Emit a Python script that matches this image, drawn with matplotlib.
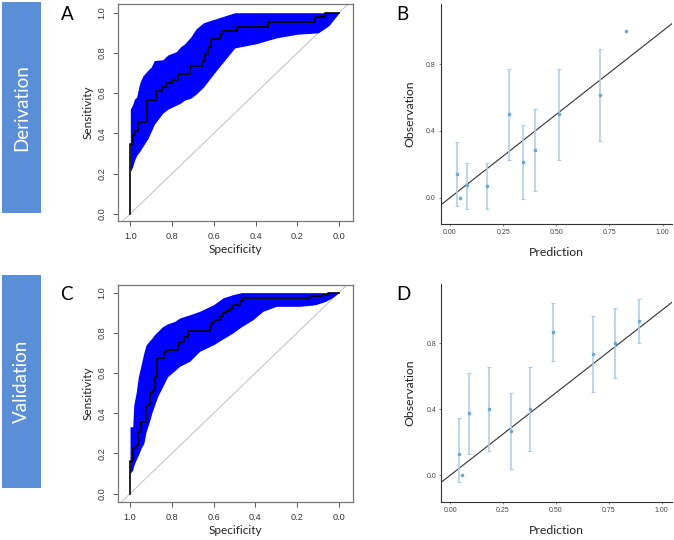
import numpy as np
import matplotlib
matplotlib.use("Agg")
import matplotlib.pyplot as plt
from matplotlib.patches import Rectangle

# ---------------- data ----------------
# Panel A (derivation ROC): step curve vertices (specificity, sensitivity)
roc_a_spec = [1.0, 1.0, 0.989, 0.978, 0.962, 0.922, 0.877, 0.850, 0.831, 0.802, 0.770,
              0.714, 0.655, 0.643, 0.627, 0.612, 0.571, 0.563, 0.491, 0.339, 0.116, 0.069, 0.0]
roc_a_sens = [0.0, 0.347, 0.39, 0.41, 0.456, 0.565, 0.612, 0.628, 0.652, 0.665, 0.695,
              0.736, 0.761, 0.794, 0.828, 0.869, 0.894, 0.91, 0.93, 0.952, 0.977, 1.0, 1.0]
band_a_spec = [1.00, 0.99, 0.98, 0.97, 0.955, 0.94, 0.915, 0.90, 0.885, 0.845, 0.82, 0.78,
               0.76, 0.74, 0.71, 0.685, 0.65, 0.59, 0.50, 0.40, 0.30, 0.20, 0.10, 0.05, 0.0]
band_a_upper = [0.52, 0.54, 0.57, 0.58, 0.65, 0.685, 0.715, 0.73, 0.762, 0.766, 0.79, 0.806,
                0.83, 0.845, 0.88, 0.92, 0.95, 0.97, 1.0, 1.0, 1.0, 1.0, 1.0, 1.0, 1.0]
band_a_lower = [0.21, 0.23, 0.265, 0.29, 0.31, 0.335, 0.375, 0.41, 0.445, 0.50, 0.52, 0.54,
                0.55, 0.565, 0.575, 0.595, 0.63, 0.71, 0.825, 0.845, 0.875, 0.893, 0.90, 0.935, 1.0]

# Panel C (validation ROC)
roc_c_spec = [1.0, 1.0, 0.987, 0.971, 0.96, 0.947, 0.923, 0.915, 0.904, 0.892, 0.879, 0.871,
              0.836, 0.828, 0.772, 0.764, 0.74, 0.724, 0.619, 0.612, 0.596, 0.571, 0.555,
              0.539, 0.523, 0.507, 0.475, 0.459, 0.14, 0.08, 0.05, 0.0]
roc_c_sens = [0.0, 0.16, 0.226, 0.242, 0.308, 0.358, 0.436, 0.446, 0.50, 0.517, 0.582, 0.673,
              0.706, 0.714, 0.74, 0.756, 0.781, 0.808, 0.833, 0.85, 0.866, 0.882, 0.898,
              0.907, 0.924, 0.94, 0.957, 0.974, 0.985, 0.99, 1.0, 1.0]
band_c_spec = [1.00, 0.987, 0.982, 0.971, 0.96, 0.947, 0.934, 0.923, 0.907, 0.896, 0.884,
               0.868, 0.844, 0.82, 0.788, 0.762, 0.714, 0.667, 0.60, 0.555, 0.507, 0.467,
               0.411, 0.364, 0.30, 0.188, 0.116, 0.068, 0.036, 0.0]
band_c_upper = [0.333, 0.333, 0.441, 0.50, 0.582, 0.64, 0.70, 0.74, 0.76, 0.773, 0.79,
                0.806, 0.831, 0.845, 0.856, 0.874, 0.89, 0.907, 0.94, 0.974, 0.99, 1.0,
                1.0, 1.0, 1.0, 1.0, 1.0, 1.0, 1.0, 1.0]
band_c_lower = [0.101, 0.117, 0.14, 0.168, 0.192, 0.226, 0.25, 0.308, 0.358, 0.40, 0.436,
                0.483, 0.532, 0.582, 0.61, 0.634, 0.659, 0.708, 0.741, 0.77, 0.80, 0.83,
                0.866, 0.907, 0.932, 0.932, 0.939, 0.955, 0.972, 1.0]

# Panel B (derivation calibration)
cal_b_pred = [0.033, 0.049, 0.081, 0.172, 0.277, 0.342, 0.40, 0.514, 0.705, 0.829]
cal_b_obs = [0.142, 0.0, 0.076, 0.072, 0.50, 0.212, 0.286, 0.50, 0.616, 1.0]
cal_b_low = [-0.048, None, -0.07, -0.07, 0.226, -0.01, 0.04, 0.226, 0.34, None]
cal_b_high = [0.332, None, 0.21, 0.21, 0.77, 0.436, 0.53, 0.77, 0.89, None]

# Panel D (validation calibration)
cal_d_pred = [0.042, 0.057, 0.09, 0.186, 0.29, 0.38, 0.487, 0.676, 0.78, 0.893]
cal_d_obs = [0.127, 0.0, 0.376, 0.402, 0.269, 0.402, 0.869, 0.735, 0.802, 0.935]
cal_d_low = [-0.042, None, 0.129, 0.145, 0.038, 0.145, 0.691, 0.505, 0.592, 0.804]
cal_d_high = [0.349, None, 0.622, 0.659, 0.501, 0.659, 1.046, 0.968, 1.012, 1.067]

roc_ticks = [1.0, 0.8, 0.6, 0.4, 0.2, 0.0]
roc_ticklabels = ["1.0", "0.8", "0.6", "0.4", "0.2", "0.0"]
cal_xticks = [0.0, 0.25, 0.5, 0.75, 1.0]
cal_xticklabels = ["0.00", "0.25", "0.50", "0.75", "1.00"]
cal_yticks = [0.0, 0.4, 0.8]
cal_yticklabels = ["0.0", "0.4", "0.8"]

row_labels = ["Derivation", "Validation"]
panel_letters = ["A", "B", "C", "D"]

# ---------------- figure ----------------
W, H = 674, 540
fig = plt.figure(figsize=(W / 100, H / 100), dpi=100)

def rect(l, t, r, b):
    return [l / W, 1 - b / H, (r - l) / W, (b - t) / H]

LBL = "Lato"
TICKF = "Liberation Sans"


def roc_panel(box, spec, sens, bspec, blow, bup, ylim):
    ax = fig.add_axes(box)
    ax.fill_between(bspec, blow, bup, color="#0000ff", linewidth=0, zorder=2)
    ax.axline((1, 0), slope=-1, color="#c8c8c8", lw=0.8, zorder=1)
    ax.plot(spec, sens, drawstyle="steps-post", color="black", lw=1.2, zorder=3)
    ax.set_xlim(1.059, -0.066)
    ax.set_ylim(*ylim)
    ax.set_xticks(roc_ticks)
    ax.set_xticklabels(roc_ticklabels, fontsize=6.6, family=TICKF, color="#333333")
    ax.set_yticks(roc_ticks)
    ax.set_yticklabels(roc_ticklabels, fontsize=6.6, family=TICKF, color="#333333",
                       rotation=90, va="center")
    ax.tick_params(length=3.6, width=0.7, color="#555555", pad=4.5)
    for s in ax.spines.values():
        s.set_color("#777777")
        s.set_linewidth(0.9)
    ax.set_xlabel("Specificity", family=LBL, fontsize=8.5, color="#222222", labelpad=2)
    ax.set_ylabel("Sensitivity", family=LBL, fontsize=8.5, color="#222222", labelpad=3)
    return ax


def cal_panel(box, pred, obs, low, high, xlim, ylim):
    ax = fig.add_axes(box)
    ax.axline((0, 0), slope=1, color="#333333", lw=0.8, zorder=1)
    pred = np.array(pred, float)
    obs = np.array(obs, float)
    lo = np.array([np.nan if v is None else v for v in low], float)
    hi = np.array([np.nan if v is None else v for v in high], float)
    m = ~np.isnan(lo)
    ax.errorbar(pred[m], obs[m], yerr=[obs[m] - lo[m], hi[m] - obs[m]], fmt="none",
                ecolor="#a9cbe8", elinewidth=1.1, capsize=1.5, capthick=0.8, zorder=2)
    ax.plot(pred, obs, "o", color="#6aa6d6", ms=2.6, mec="none", zorder=3)
    ax.set_xlim(*xlim)
    ax.set_ylim(*ylim)
    ax.set_xticks(cal_xticks)
    ax.set_xticklabels(cal_xticklabels, fontsize=5, family=TICKF, color="#444444")
    ax.set_yticks(cal_yticks)
    ax.set_yticklabels(cal_yticklabels, fontsize=5, family=TICKF, color="#444444")
    ax.tick_params(length=1.5, width=0.5, color="#555555", pad=2)
    ax.spines["top"].set_visible(False)
    ax.spines["right"].set_visible(False)
    for s in ("left", "bottom"):
        ax.spines[s].set_color("#333333")
        ax.spines[s].set_linewidth(0.8)
    ax.set_xlabel("Prediction", family=LBL, fontsize=8.8, color="#222222", labelpad=8)
    ax.set_ylabel("Observation", family=LBL, fontsize=8.8, color="#222222", labelpad=8)
    return ax


roc_panel(rect(118, 4.3, 353, 221), roc_a_spec, roc_a_sens, band_a_spec, band_a_lower,
          band_a_upper, (-0.0363, 1.0418))
roc_panel(rect(117.7, 285, 352.7, 501.7), roc_c_spec, roc_c_sens, band_c_spec, band_c_lower,
          band_c_upper, (-0.040, 1.038))
cal_panel(rect(440.7, 4.3, 672, 224), cal_b_pred, cal_b_obs, cal_b_low, cal_b_high,
          (-0.044, 1.044), (-0.158, 1.16))
cal_panel(rect(441, 284.3, 672, 501.7), cal_d_pred, cal_d_obs, cal_d_low, cal_d_high,
          (-0.043, 1.049), (-0.16, 1.158))

# row label boxes
for (top, bot), lab in zip([(1.7, 213.3), (275.3, 487.7)], row_labels):
    fig.patches.append(Rectangle((1.7 / W, 1 - bot / H), (40.7 - 1.7) / W, (bot - top) / H,
                                 transform=fig.transFigure, facecolor="#5a8ed6",
                                 edgecolor="none"))
    fig.text(21.5 / W, 1 - (top + bot) / 2 / H, lab, rotation=90, ha="center", va="center",
             color="white", family=LBL, fontsize=13.5)

# panel letters
for (x, y), letter in zip([(67, 14), (402, 14), (66, 295), (403, 295)], panel_letters):
    fig.text(x / W, 1 - y / H, letter, ha="center", va="center", family=LBL,
             fontsize=13.5, color="black")

fig.savefig("out.png", dpi=100)
